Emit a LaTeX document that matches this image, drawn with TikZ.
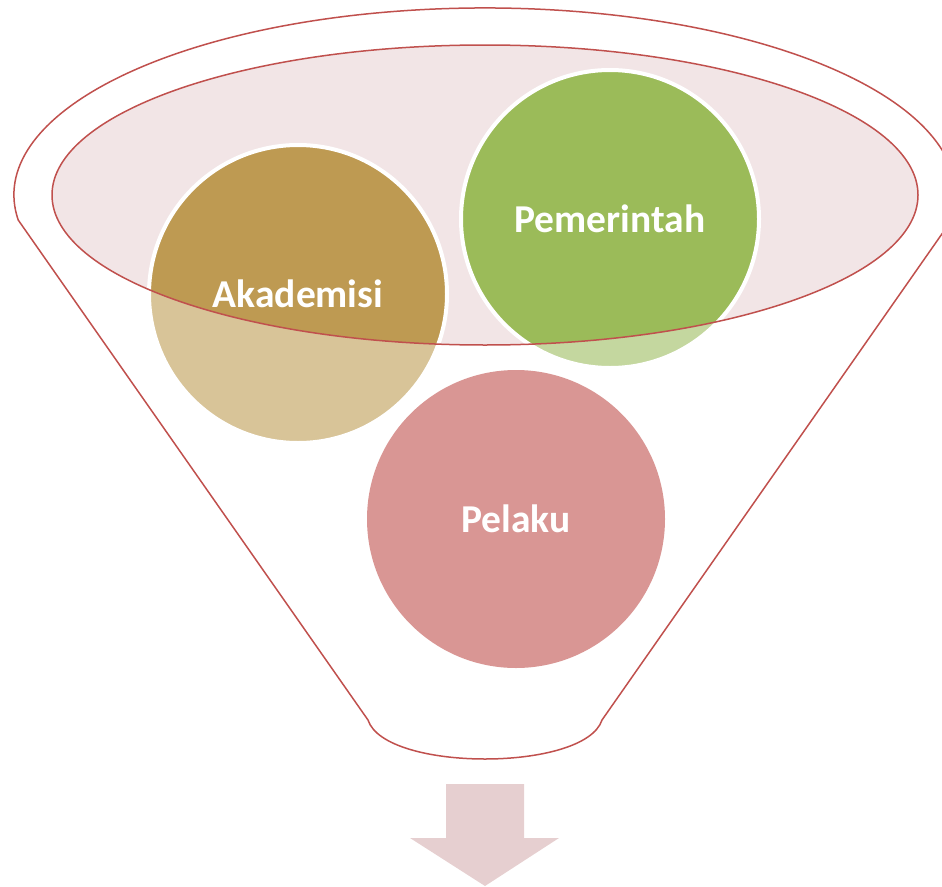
\documentclass[tikz,border=0pt]{standalone}
\usepackage{fontspec}
\setmainfont{Carlito}
\usetikzlibrary{positioning}
\definecolor{rim}{HTML}{C0504D}
\definecolor{bowl}{HTML}{F2E5E6}
\definecolor{akadark}{HTML}{BE9A52}
\definecolor{akalight}{HTML}{D8C498}
\definecolor{pemdark}{HTML}{9BBB59}
\definecolor{pemlight}{HTML}{C4D79F}
\definecolor{pelfill}{HTML}{D99694}
\definecolor{outflow}{HTML}{E6CFD0}

\begin{document}
\begin{tikzpicture}[x=1pt, y=1pt,
  ball/.style={circle, minimum size=298pt, inner sep=0pt, draw=white, line width=4pt,
    text=white, font=\bfseries\fontsize{39.5}{40}\selectfont},
  rimline/.style={draw=rim, line width=1.5pt}]
\useasboundingbox (0,0) rectangle (942,-886);
\clip (0,0) rectangle (942,-886);
% funnel body
\draw[rimline] (18.2,-220) arc[start angle=187.7, end angle=-7.7, x radius=471pt, y radius=187pt]
  -- (602,-720) .. controls (585,-772) and (385,-772) .. (368,-720) -- cycle;
\fill[bowl] (485,-195) ellipse[x radius=433pt, y radius=150pt];
% circles, darker inside the bowl
\foreach \x/\y/\lite/\dark in {298/-294/akalight/akadark, 610/-219/pemlight/pemdark, 516/-519/pelfill/pelfill}{
  \fill[\lite] (\x,\y) circle[radius=149pt];
  \begin{scope}
    \clip (485,-195) ellipse[x radius=433pt, y radius=150pt];
    \fill[\dark] (\x,\y) circle[radius=149pt];
  \end{scope}
}
\node[ball] (aka) at (298,-294) {Akademisi};
\node[ball] (pem) at (610,-219) {Pemerintah};
\node[ball, draw=none] (pel) at (516,-519) {Pelaku};
\draw[rimline] (485,-195) ellipse[x radius=433pt, y radius=150pt];
% output arrow
\fill[outflow] (446,-784) -- (524,-784) -- (524,-838) -- (559,-838) -- (485,-886)
  -- (410,-838) -- (446,-838) -- cycle;
\end{tikzpicture}
\end{document}
